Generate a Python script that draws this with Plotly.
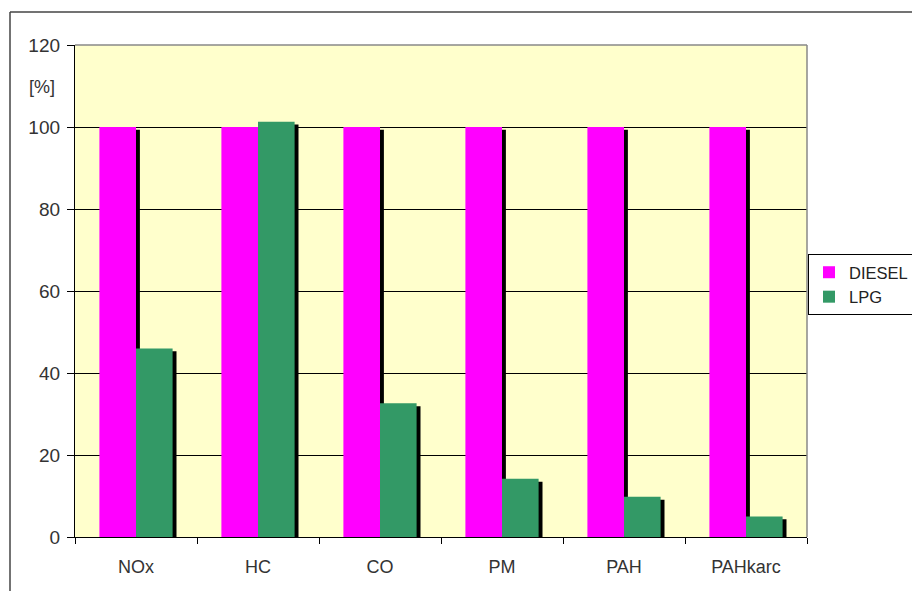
import plotly.graph_objects as go

# Emission comparison, LPG relative to diesel (diesel = 100 %)
categories = ["NOx", "HC", "CO", "PM", "PAH", "PAHkarc"]
diesel = [100, 100, 100, 100, 100, 100]
lpg = [46, 101.3, 32.6, 14.2, 9.8, 5.0]
y_ticks = [0, 20, 40, 60, 80, 100, 120]

MAGENTA = "#FF00FF"
GREEN = "#339966"
BG = "#FFFFCC"
FONT = "Arial, Liberation Sans, sans-serif"

BAR_W = 0.3
SHADOW_DX = 0.032   # shadow shift to the right (category units)
SHADOW_DY = 0.7     # shadow drop (value units)

fig = go.Figure()

# drop shadows, drawn first so the coloured bars sit on top
for vals, off in ((diesel, -BAR_W), (lpg, 0.0)):
    fig.add_trace(go.Bar(
        x=categories, y=[v - SHADOW_DY for v in vals],
        width=BAR_W, offset=off + SHADOW_DX,
        marker=dict(color="black", line=dict(width=0)),
        showlegend=False, hoverinfo="skip",
    ))

fig.add_trace(go.Bar(
    x=categories, y=diesel, name="DIESEL",
    width=BAR_W, offset=-BAR_W,
    marker=dict(color=MAGENTA, line=dict(width=0)),
))
fig.add_trace(go.Bar(
    x=categories, y=lpg, name="LPG",
    width=BAR_W, offset=0.0,
    marker=dict(color=GREEN, line=dict(width=0)),
))

fig.update_layout(
    width=912, height=591,
    barmode="overlay",
    paper_bgcolor="white",
    plot_bgcolor=BG,
    margin=dict(l=75, r=105, t=45, b=54, autoexpand=False),
    font=dict(family=FONT, size=18, color="#333333"),
    xaxis=dict(
        range=[-0.5, len(categories) - 0.5],
        tickson="boundaries", ticks="outside", ticklen=6, tickcolor="black",
        showline=True, linecolor="black", linewidth=1.3,
        showgrid=False, zeroline=False,
        tickfont=dict(size=18, color="#333333"),
        ticklabelstandoff=13,
    ),
    yaxis=dict(
        range=[0, 120], tickvals=y_ticks,
        ticks="outside", ticklen=7, tickcolor="black",
        showline=True, linecolor="black", linewidth=1.3,
        showgrid=True, gridcolor="black", gridwidth=1,
        zeroline=False,
        tickfont=dict(size=19, color="#333333"),
        ticklabelstandoff=3,
    ),
    legend=dict(
        x=(808 - 75) / 732, y=(537 - 254) / 492, xanchor="left", yanchor="top",
        bgcolor="white", bordercolor="black", borderwidth=1,
        font=dict(size=16.5, color="#222222"),
        tracegroupgap=0, itemwidth=30,
    ),
    annotations=[dict(
        text="[%]", xref="paper", yref="paper", x=-18 / 732, y=(537 - 87) / 492,
        xanchor="right", yanchor="middle", showarrow=False,
        font=dict(size=18, color="#333333"),
    )],
    shapes=[
        # grey frame on the top and right side of the plot area
        dict(type="line", xref="paper", yref="paper", x0=0, x1=1, y0=1, y1=1,
             line=dict(color="#888888", width=1.5)),
        dict(type="line", xref="paper", yref="paper", x0=1, x1=1, y0=0, y1=1,
             line=dict(color="#888888", width=1.5)),
        # outer chart frame
        dict(type="line", xref="paper", yref="paper",
             x0=-65 / 732, x1=1.3, y0=(537 - 12) / 492, y1=(537 - 12) / 492,
             line=dict(color="#444444", width=1.5)),
        dict(type="line", xref="paper", yref="paper",
             x0=-65 / 732, x1=-65 / 732, y0=-0.2, y1=(537 - 12) / 492,
             line=dict(color="#444444", width=1.5)),
    ],
)

fig.write_html("out.html")
